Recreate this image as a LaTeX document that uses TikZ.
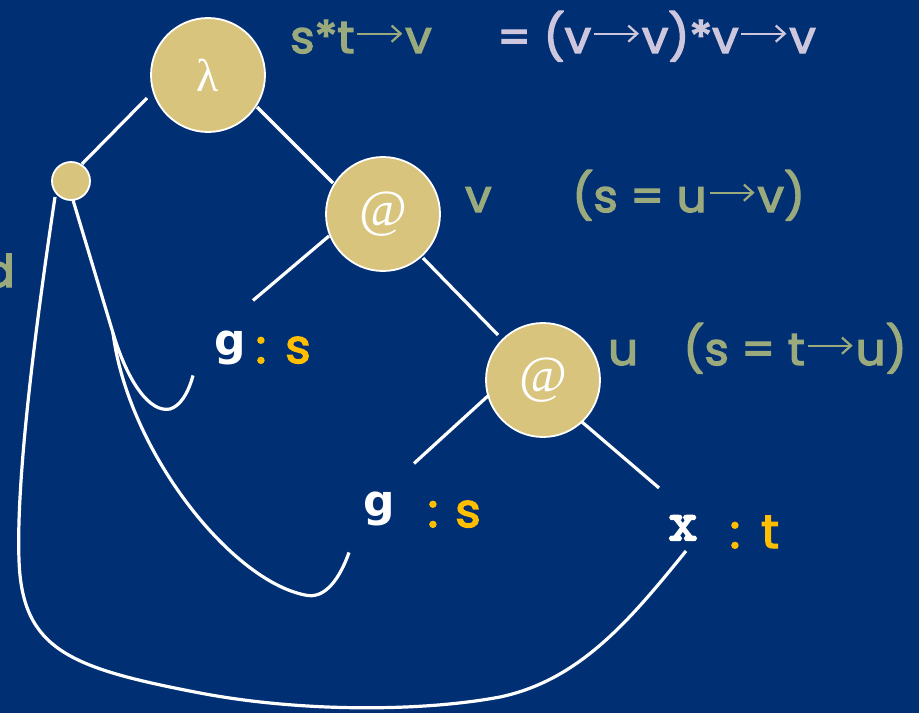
\documentclass[tikz,border=0pt]{standalone}
\usepackage{fontspec}
\setmainfont{Poppins}[FakeBold=3,FakeStretch=1.04]
\newfontfamily\gfont{DejaVu Sans}
\newfontfamily\sfont{Liberation Serif}
\newfontfamily\xfont{Latin Modern Mono}[FakeBold=4]
\usetikzlibrary{calc,arrows.meta}
\definecolor{bg}{RGB}{0,48,115}
\definecolor{tan}{RGB}{216,196,124}
\definecolor{grn}{RGB}{155,170,125}
\definecolor{lav}{RGB}{205,198,220}
\definecolor{org}{RGB}{255,190,0}
\newcommand\arr{\hspace{0.04em}\tikz[baseline=0pt,x=1em,y=1em]{\draw[line width=0.05em,-{Straight Barb[length=0.2em,width=0.36em]}] (0,0.43) -- (1.0,0.43);}\hspace{0.04em}}
\begin{document}
\begin{tikzpicture}[x=1pt,y=-1pt,
  bignode/.style={circle,fill=tan,draw=white,line width=1.8pt,minimum size=114pt,inner sep=0pt,text=white},
  smallnode/.style={circle,fill=tan,draw=white,line width=1.8pt,minimum size=38pt,inner sep=0pt},
  edge/.style={draw=white,line width=3.2pt},
  lbl/.style={font=\fontsize{45}{48}\selectfont,inner sep=0pt,text=grn},
  gvar/.style={font=\gfont\bfseries\fontsize{44}{48}\selectfont,inner sep=0pt,text=white},
  xvar/.style={font=\xfont\fontsize{56}{60}\selectfont,inner sep=0pt,text=white},
  typ/.style={font=\fontsize{47}{50}\selectfont,inner sep=0pt,text=org}]
\useasboundingbox (0,0) rectangle (919,713);
\fill[bg] (0,0) rectangle (919,713);

% nodes
\node[bignode,font=\sfont\fontsize{46}{50}\selectfont] (lam) at (208,75) {λ};
\node[smallnode] (sm) at (71,181) {};
\node[bignode,font=\sfont\fontsize{52}{56}\selectfont] (at1) at (383,214) {@};
\node[bignode,font=\sfont\fontsize{52}{56}\selectfont] (at2) at (543,380) {@};

\node[gvar,anchor=base] (g1) at (230,355) {g};
\node[typ,anchor=base] (c1) at (261,363) {:};
\node[typ,anchor=base] (s1) at (298,363) {s};
\node[gvar,anchor=base] (g2) at (379,516) {g};
\node[typ,anchor=base] (c2) at (433,527) {:};
\node[typ,anchor=base] (s2) at (468,527) {s};
\node[xvar,anchor=base] (xv) at (683,540) {x};
\node[typ,anchor=base] (c3) at (735,548) {:};
\node[typ,anchor=base] (t3) at (770,548) {t};

% type annotations
\node[lbl,anchor=base west] (ty0) at (290,53) {s*t\arr v};
\node[lbl,anchor=base west,text=lav] (ty1) at (497,53) {= (v\arr v)*v\arr v};
\node[lbl,anchor=base west] (tv) at (465,212) {v};
\node[lbl,anchor=base west] (tv2) at (572,212) {(s = u\arr v)};
\node[lbl,anchor=base west] (tu) at (608,365) {u};
\node[lbl,anchor=base west] (tu2) at (683,365) {(s = t\arr u)};
\node[lbl,anchor=base east] (dd) at (15,287) {d};

% tree edges
\draw[edge] ($(lam)+(-61,23)$) -- ($(sm)+(11,-17)$);
\draw[edge] ($(lam)+(49,32)$) -- ($(at1)+(-50,-31)$);
\draw[edge] ($(at1)+(-54,22)$) -- ($(g1)+(23,-47)$);
\draw[edge] ($(at1)+(40,44)$) -- ($(at2)+(-45,-45)$);
\draw[edge] ($(at2)+(-54,15)$) -- ($(g2)+(35,-45)$);
\draw[edge] ($(at2)+(39,42)$) -- ($(xv)+(-24,-40)$);

% binding curves
\coordinate (split) at (113,333);
\draw[edge] ($(sm)+(2,19)$) -- (split)
  .. controls (128,383) and (150,413) .. (170,409)
  .. controls (180,406) and (188,394) .. ($(g1)+(-37,28)$);
\draw[edge] (split)
  .. controls (128,450) and (230,580) .. (305,595)
  .. controls (325,600) and (340,578) .. ($(g2)+(-30,44)$);
\draw[edge] ($(sm)+(-16,16)$)
  .. controls (35,330) and (16,480) .. (19,560)
  .. controls (22,650) and (70,668) .. (200,693)
  .. controls (300,712) and (420,712) .. (500,697)
  .. controls (580,680) and (630,620) .. ($(xv)+(3,23)$);
\end{tikzpicture}
\end{document}
